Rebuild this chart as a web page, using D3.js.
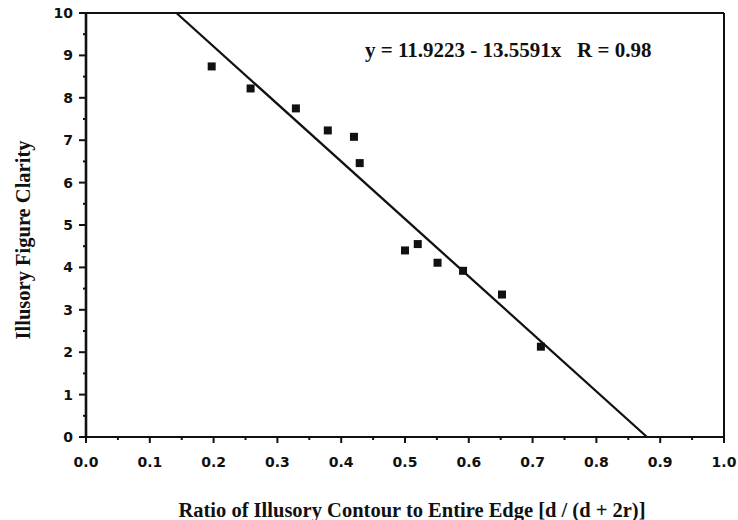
<!DOCTYPE html>
<html>
<head>
<meta charset="utf-8">
<script src="https://cdn.jsdelivr.net/npm/d3@7"></script>
<style>
  body { margin: 0; background: #fff; }
  svg { display: block; }
  .tick-label { font-family: "DejaVu Sans", sans-serif; font-size: 14px; font-weight: bold; fill: #111; }
  .title { font-family: "Liberation Serif", "Times New Roman", serif; font-weight: bold; font-size: 20.5px; fill: #111; }
</style>
</head>
<body>
<div id="chart"></div>
<script>
// data
const ratio = [0.197, 0.258, 0.329, 0.379, 0.420, 0.429, 0.500, 0.520, 0.551, 0.591, 0.652, 0.713];
const clarity = [8.74, 8.22, 7.75, 7.23, 7.08, 6.46, 4.40, 4.55, 4.11, 3.92, 3.36, 2.13];
const xTicks = [0, 0.1, 0.2, 0.3, 0.4, 0.5, 0.6, 0.7, 0.8, 0.9, 1.0];
const yTicks = [0, 1, 2, 3, 4, 5, 6, 7, 8, 9, 10];
const intercept = 11.9223, slope = -13.5591, rValue = 0.98;

const W = 738, H = 520;
const svg = d3.select("#chart").append("svg").attr("width", W).attr("height", H);

const x = d3.scaleLinear().domain([0, 1]).range([86, 724]);
const y = d3.scaleLinear().domain([0, 10]).range([437, 13]);

// frame (top + right)
svg.append("line").attr("x1", x(0)).attr("x2", x(1)).attr("y1", y(10)).attr("y2", y(10))
    .attr("stroke", "#111").attr("stroke-width", 1.8);
svg.append("line").attr("x1", x(1)).attr("x2", x(1)).attr("y1", y(10)).attr("y2", y(0))
    .attr("stroke", "#111").attr("stroke-width", 2);

// x axis
const xMinor = d3.range(0.05, 1, 0.1);
svg.append("line").attr("x1", x(0)).attr("x2", x(1)).attr("y1", y(0)).attr("y2", y(0))
    .attr("stroke", "#111").attr("stroke-width", 2.2);
svg.selectAll(".xmaj").data(xTicks).enter().append("line")
    .attr("x1", d => x(d)).attr("x2", d => x(d))
    .attr("y1", y(0)).attr("y2", y(0) + 6)
    .attr("stroke", "#111").attr("stroke-width", 2);
svg.selectAll(".xmin").data(xMinor).enter().append("line")
    .attr("x1", d => x(d)).attr("x2", d => x(d))
    .attr("y1", y(0)).attr("y2", y(0) + 3)
    .attr("stroke", "#111").attr("stroke-width", 2);
svg.selectAll(".xlab").data(xTicks).enter().append("text")
    .attr("class", "tick-label")
    .attr("x", d => x(d)).attr("y", 467)
    .attr("text-anchor", "middle")
    .text(d => d.toFixed(1));

// y axis
const yMinor = d3.range(0.5, 10, 1);
svg.append("line").attr("x1", x(0)).attr("x2", x(0)).attr("y1", y(10)).attr("y2", y(0))
    .attr("stroke", "#111").attr("stroke-width", 2.6);
svg.selectAll(".ymaj").data(yTicks).enter().append("line")
    .attr("x1", x(0) - 7).attr("x2", x(0))
    .attr("y1", d => y(d)).attr("y2", d => y(d))
    .attr("stroke", "#111").attr("stroke-width", 2);
svg.selectAll(".ymin").data(yMinor).enter().append("line")
    .attr("x1", x(0) - 3).attr("x2", x(0))
    .attr("y1", d => y(d)).attr("y2", d => y(d))
    .attr("stroke", "#111").attr("stroke-width", 2);
svg.selectAll(".ylab").data(yTicks).enter().append("text")
    .attr("class", "tick-label")
    .attr("x", 73).attr("y", d => y(d))
    .attr("dy", "0.36em")
    .attr("text-anchor", "end")
    .text(d => d);

// regression line, clipped to the plot box
const xTop = (10 - intercept) / slope, xBottom = (0 - intercept) / slope;
svg.append("line")
    .attr("x1", x(xTop)).attr("y1", y(10))
    .attr("x2", x(xBottom)).attr("y2", y(0))
    .attr("stroke", "#111").attr("stroke-width", 2.3);

// points
const pts = ratio.map((r, i) => ({ r: r, c: clarity[i] }));
svg.selectAll(".pt").data(pts).enter().append("rect")
    .attr("x", d => x(d.r) - 4).attr("y", d => y(d.c) - 4)
    .attr("width", 8).attr("height", 8)
    .attr("fill", "#111");

// equation
svg.append("text").attr("class", "title")
    .attr("x", 365).attr("y", 57)
    .style("font-size", "21px")
    .style("white-space", "pre")
    .attr("xml:space", "preserve")
    .text(`y = ${intercept.toFixed(4)} - ${Math.abs(slope).toFixed(4)}x   R = ${rValue}`);

// axis titles
svg.append("text").attr("class", "title")
    .attr("x", 412).attr("y", 517)
    .attr("text-anchor", "middle")
    .text("Ratio of Illusory Contour to Entire Edge [d / (d + 2r)]");

svg.append("text").attr("class", "title")
    .attr("transform", "translate(30,240) rotate(-90)")
    .attr("text-anchor", "middle")
    .text("Illusory Figure Clarity");
</script>
</body>
</html>
